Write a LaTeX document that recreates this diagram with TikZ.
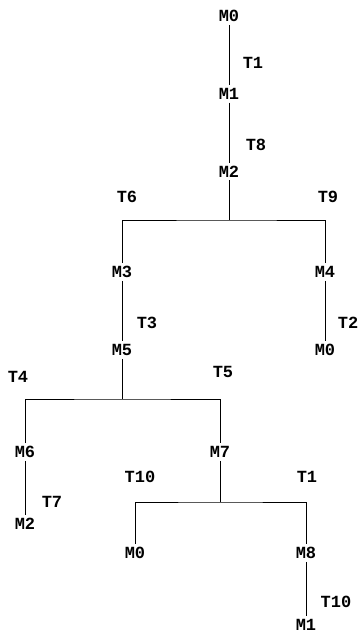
\documentclass[tikz,border=0pt]{standalone}
\usepackage{fontspec}
\setmonofont{Liberation Mono}
\usetikzlibrary{positioning, calc}
\tikzset{
    mark node/.style ={inner xsep=1pt, inner ysep=3pt, font=\ttfamily\bfseries\fontsize{17}{17}\selectfont},
    trans label/.style={inner sep=1pt, font=\ttfamily\bfseries\fontsize{17}{17}\selectfont},
    arc line/.style   ={line width=1pt},
}
\begin{document}
\begin{tikzpicture}[x=1pt, y=-1pt, node distance=60pt]
            \useasboundingbox (0,0) rectangle (361,633);
            % markings
            \node[mark node] (m0) at (229,16) {M0};
            \node[mark node, below=of m0] (m1) {M1};
            \node[mark node, below=of m1] (m2) {M2};
            \coordinate (bar1) at (229,220);
            \node[mark node] (m3) at (122,272) {M3};
            \node[mark node] (m4) at (325,272) {M4};
            \node[mark node, below=of m3] (m5) {M5};
            \node[mark node, below=of m4] (m0b) {M0};
            \coordinate (bar2) at (122,399);
            \node[mark node] (m6) at (25,452) {M6};
            \node[mark node] (m7) at (220,452) {M7};
            \node[mark node, below=54pt of m6] (m2b) {M2};
            \coordinate (bar3) at (220,502);
            \node[mark node] (m0c) at (135,553) {M0};
            \node[mark node] (m8) at (306,553) {M8};
            \node[mark node, below=54pt of m8] (m1b) {M1};
            % transitions
            \node[trans label] (t1) at (253,63) {T1};
            \node[trans label] (t8) at (256,145) {T8};
            \node[trans label] (t6) at (127,197) {T6};
            \node[trans label] (t9) at (328,197) {T9};
            \node[trans label] (t3) at (147,323) {T3};
            \node[trans label] (t2) at (348,323) {T2};
            \node[trans label] (t4) at (18,377) {T4};
            \node[trans label] (t5) at (223,372) {T5};
            \node[trans label] (t7) at (52,502) {T7};
            \node[trans label] (t10a) at (140,477) {T10};
            \node[trans label] (t1b) at (307,477) {T1};
            \node[trans label] (t10b) at (336,602) {T10};
            % arcs
            \draw[arc line](m0)--(m1);
            \draw[arc line](m1)--(m2);
            \draw[arc line](m2)--(bar1);
            \draw[arc line](m3)|-(bar1)-|(m4);
            \draw[arc line](m3)--(m5);
            \draw[arc line](m4)--(m0b);
            \draw[arc line](m5)--(bar2);
            \draw[arc line](m6)|-(bar2)-|(m7);
            \draw[arc line](m6)--(m2b);
            \draw[arc line](m7)--(bar3);
            \draw[arc line](m0c)|-(bar3)-|(m8);
            \draw[arc line](m8)--(m1b);
        \end{tikzpicture}
\end{document}
